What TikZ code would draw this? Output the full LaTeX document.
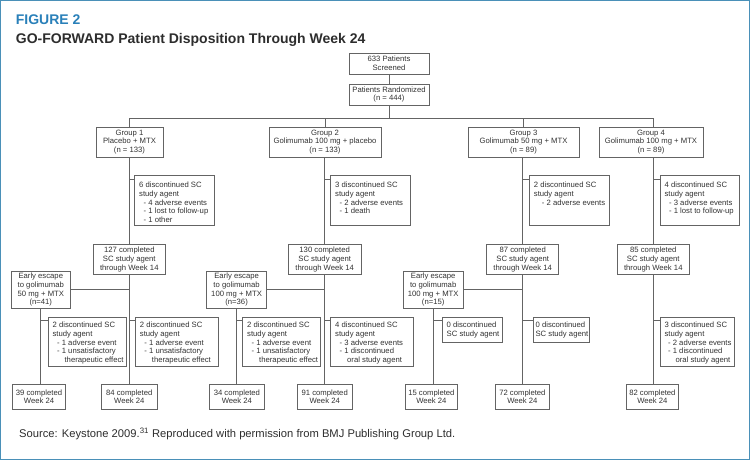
\documentclass[tikz,border=0pt]{standalone}
\usepackage{fontspec}
\setmainfont{Liberation Sans}
\usetikzlibrary{calc}
\definecolor{frameblue}{RGB}{74,144,184}
\definecolor{figblue}{RGB}{41,128,185}
\definecolor{titlegray}{RGB}{45,45,45}
\definecolor{boxline}{RGB}{100,100,100}
\definecolor{txt}{RGB}{50,50,50}
\newcommand{\lbx}[3]{\parbox[t][#2][t]{#1}{\begin{tabular}[t]{@{}l@{}}#3\end{tabular}}}
\newcommand{\ind}{\hspace*{4.5pt}}
\begin{document}
\begin{tikzpicture}[x=1pt,y=-1pt,
 boxfont/.style={font=\fontsize{7.7}{8.7}\selectfont},
 cbox/.style={draw=boxline, line width=0.8pt, inner sep=0pt, align=center, text=txt, boxfont},
 lbox/.style={draw=boxline, line width=0.8pt, inner xsep=4.5pt, inner ysep=4pt, anchor=north west, text=txt, boxfont},
 dbox/.style={lbox, inner ysep=6pt},
 conn/.style={draw=boxline, line width=0.8pt},
]
\path[use as bounding box] (0,0) rectangle (750,460);
\draw[frameblue, line width=1.3pt] (0.65,0.65) rectangle (749.35,459.35);

% titles
\node[anchor=base west, inner sep=0pt, font=\bfseries\fontsize{14}{16}\selectfont, text=figblue] (fig) at (15.7,25) {FIGURE 2};
\node[anchor=base west, inner sep=0pt, font=\bfseries\fontsize{14}{16}\selectfont, text=titlegray] (ttl) at (15.7,43.3) {GO-FORWARD Patient Disposition Through Week 24};
\node[anchor=base west, inner sep=0pt, font=\fontsize{11.2}{13}\selectfont, text=titlegray] (src) at (19,437.3) {Source: Keystone 2009.\textsuperscript{31} Reproduced with permission from BMJ Publishing Group Ltd.};

% top
\node[cbox, minimum width=80pt, minimum height=21pt] (scr) at (389,63.5) {633 Patients\\Screened};
\node[cbox, minimum width=80pt, minimum height=21pt] (rand) at (389,94.5) {Patients Randomized\\(n = 444)};

% groups
\node[cbox, minimum width=67pt, minimum height=30pt] (g1) at (129.5,142) {Group 1\\Placebo + MTX\\(n = 133)};
\node[cbox, minimum width=112pt, minimum height=30pt] (g2) at (325,142) {Group 2\\Golimumab 100 mg + placebo\\(n = 133)};
\node[cbox, minimum width=111pt, minimum height=30pt] (g3) at (523.5,142) {Group 3\\Golimumab 50 mg + MTX\\(n = 89)};
\node[cbox, minimum width=104pt, minimum height=30pt] (g4) at (651,142) {Group 4\\Golimumab 100 mg + MTX\\(n = 89)};

% first discontinued
\node[dbox] (d1) at (134.3,175.3) {\lbx{71pt}{37.7pt}{6 discontinued SC\\study agent\\\ind- 4 adverse events\\\ind- 1 lost to follow-up\\\ind- 1 other}};
\node[dbox] (d2) at (330.3,175.3) {\lbx{71pt}{37.7pt}{3 discontinued SC\\study agent\\\ind- 2 adverse events\\\ind- 1 death}};
\node[dbox] (d3) at (529,175.3) {\lbx{71pt}{37.7pt}{2 discontinued SC\\study agent\\\hspace*{8pt}- 2 adverse events}};
\node[dbox] (d4) at (659.7,175.3) {\lbx{70.3pt}{37.7pt}{4 discontinued SC\\study agent\\\ind- 3 adverse events\\\ind- 1 lost to follow-up}};

% completed week 14
\node[cbox, minimum width=72pt, minimum height=30pt] (c1) at (129.3,259.7) {127 completed\\SC study agent\\through Week 14};
\node[cbox, minimum width=72.7pt, minimum height=30pt] (c2) at (324.7,259.7) {130 completed\\SC study agent\\through Week 14};
\node[cbox, minimum width=72.3pt, minimum height=30pt] (c3) at (522.7,259.7) {87 completed\\SC study agent\\through Week 14};
\node[cbox, minimum width=71.6pt, minimum height=30pt] (c4) at (653.3,259.7) {85 completed\\SC study agent\\through Week 14};

% early escape
\node[cbox, minimum width=59.7pt, minimum height=36.7pt] (e1) at (40.8,289.7) {Early escape\\to golimumab\\50 mg + MTX\\(n=41)};
\node[cbox, minimum width=59.7pt, minimum height=36.7pt] (e2) at (236.6,289.7) {Early escape\\to golimumab\\100 mg + MTX\\(n=36)};
\node[cbox, minimum width=59.7pt, minimum height=36.7pt] (e3) at (433.2,289.7) {Early escape\\to golimumab\\100 mg + MTX\\(n=15)};

% second discontinued
\node[lbox] (b1e) at (47.7,317.3) {\lbx{69.3pt}{40.7pt}{2 discontinued SC\\study agent\\\ind- 1 adverse event\\\ind- 1 unsatisfactory\\\hspace*{12pt}therapeutic effect}};
\node[lbox] (b1m) at (135,317.3) {\lbx{73.7pt}{40.7pt}{2 discontinued SC\\study agent\\\ind- 1 adverse event\\\ind- 1 unsatisfactory\\\hspace*{12pt}therapeutic effect}};
\node[lbox] (b2e) at (242.3,317.3) {\lbx{68.7pt}{40.7pt}{2 discontinued SC\\study agent\\\ind- 1 adverse event\\\ind- 1 unsatisfactory\\\hspace*{12pt}therapeutic effect}};
\node[lbox] (b2m) at (330.3,317.3) {\lbx{73.4pt}{40.7pt}{4 discontinued SC\\study agent\\\ind- 3 adverse events\\\ind- 1 discontinued\\\hspace*{12pt}oral study agent}};
\node[lbox, inner xsep=4pt] (b3e) at (442.3,317.3) {\lbx{51.4pt}{17pt}{0 discontinued\\SC study agent}};
\node[lbox, inner xsep=2.5pt] (b3m) at (532.7,317.3) {\lbx{51.3pt}{17pt}{0 discontinued\\SC study agent}};
\node[lbox] (b4m) at (659.7,317.3) {\lbx{65.6pt}{40.7pt}{3 discontinued SC\\study agent\\\hspace*{3.5pt}- 2 adverse events\\\hspace*{3.5pt}- 1 discontinued\\\hspace*{11pt}oral study agent}};

% finals
\node[cbox, minimum width=53.4pt, minimum height=24.7pt] (f39) at (39,396.7) {39 completed\\Week 24};
\node[cbox, minimum width=56pt, minimum height=24.7pt] (f84) at (129.3,396.7) {84 completed\\Week 24};
\node[cbox, minimum width=54.3pt, minimum height=24.7pt] (f34) at (236.9,396.7) {34 completed\\Week 24};
\node[cbox, minimum width=54.7pt, minimum height=24.7pt] (f91) at (324.7,396.7) {91 completed\\Week 24};
\node[cbox, minimum width=52.7pt, minimum height=24.7pt] (f15) at (431.4,396.7) {15 completed\\Week 24};
\node[cbox, minimum width=53.3pt, minimum height=24.7pt] (f72) at (522.4,396.7) {72 completed\\Week 24};
\node[cbox, minimum width=52.7pt, minimum height=24.7pt] (f82) at (652.4,396.7) {82 completed\\Week 24};

% connectors top
\draw[conn] (scr) -- (rand);
\coordinate (bus) at (389,118);
\draw[conn] (rand.south) -- (bus);
\draw[conn] (g1.north |- bus) -- (c4 |- bus);
\draw[conn] (g1.north |- bus) -- (g1.north);
\draw[conn] (g2.north |- bus) -- (g2.north);
\draw[conn] (g3.north |- bus) -- (g3.north);
\draw[conn] (c4 |- bus) -- (c4 |- g4.north);

% trunks
\draw[conn] (c1 |- g1.south) -- (c1.north);
\draw[conn] (c2 |- g2.south) -- (c2.north);
\draw[conn] (c3 |- g3.south) -- (c3.north);
\draw[conn] (c4 |- g4.south) -- (c4.north);
\draw[conn] (c1.south) -- (c1 |- f84.north);
\draw[conn] (c2.south) -- (c2 |- f91.north);
\draw[conn] (c3.south) -- (c3 |- f72.north);
\draw[conn] (c4.south) -- (c4 |- f82.north);

% stubs to first discontinued
\foreach \d/\c in {d1/c1,d2/c2,d3/c3,d4/c4}{
  \coordinate (\d s) at ($(\d.north west)+(0,3.7)$);
  \draw[conn] (\c |- \d s) -- (\d s);
}

% early escape connectors
\draw[conn] (e1.east) -- (c1 |- e1.east);
\draw[conn] (e2.east) -- (c2 |- e2.east);
\draw[conn] (e3.east) -- (c3 |- e3.east);
\draw[conn] (e1.south) -- (e1.south |- f39.north);
\draw[conn] (e2.south) -- (e2.south |- f34.north);
\draw[conn] (e3.south) -- (e3.south |- f15.north);

% stubs to second discontinued
\foreach \b/\t in {b1e/e1.south,b2e/e2.south,b3e/e3.south,b1m/c1,b2m/c2,b3m/c3,b4m/c4}{
  \coordinate (\b s) at ($(\b.north west)+(0,3.4)$);
  \draw[conn] (\t |- \b s) -- (\b s);
}
\end{tikzpicture}
\end{document}
